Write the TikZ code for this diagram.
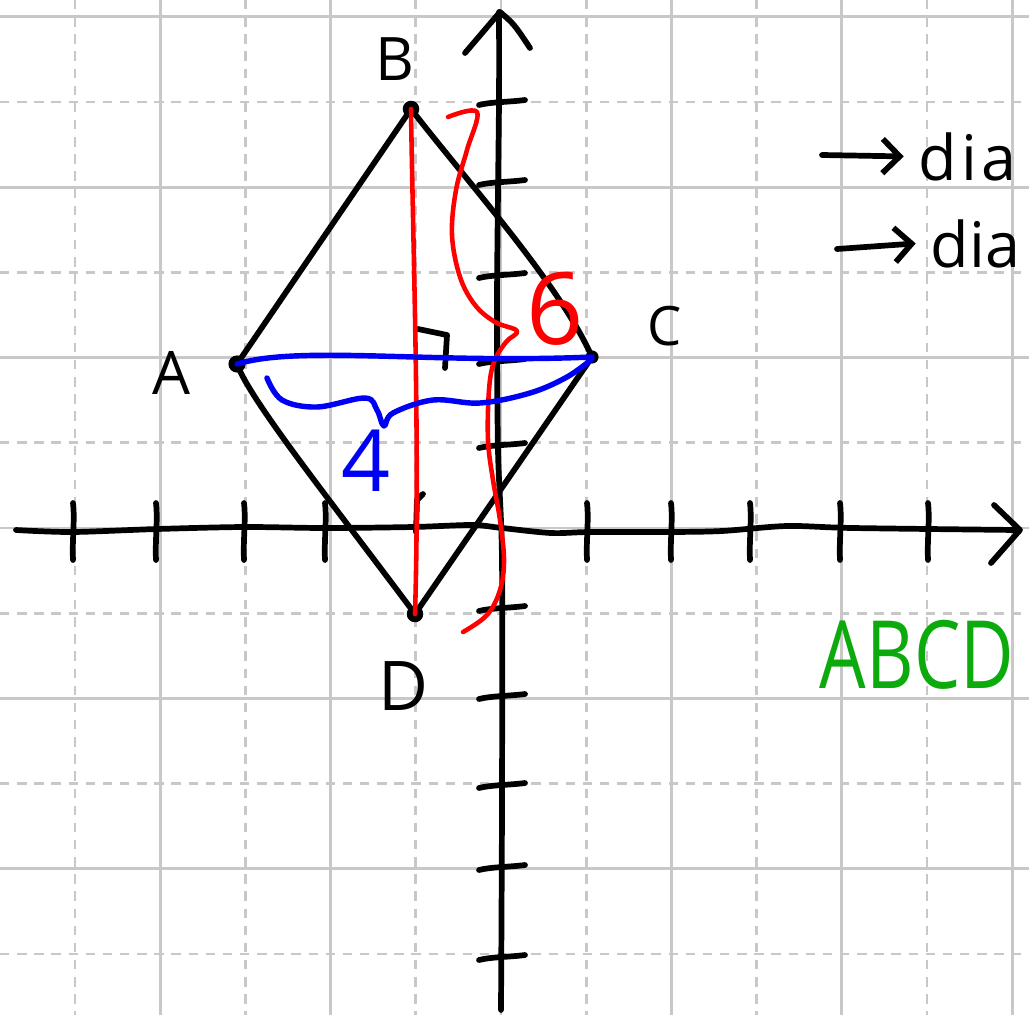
\documentclass[tikz,border=0pt]{standalone}
\usepackage{fontspec}
\setmainfont{Open Sans}
\usetikzlibrary{arrows.meta}
\definecolor{gridgray}{RGB}{200,200,200}
\definecolor{abcdgreen}{RGB}{12,170,12}
\definecolor{inkred}{RGB}{255,0,0}
\definecolor{inkblue}{RGB}{0,0,245}
\begin{document}
\begin{tikzpicture}[x=0.35pt,y=-0.35pt,
  gridsolid/.style={draw=gridgray, line width=1pt},
  griddash/.style={draw=gridgray, line width=1pt, dash pattern=on 3.3pt off 2.7pt},
  ink/.style={draw=black, line width=2pt, line cap=round, line join=round},
  redink/.style={draw=inkred, line width=1.6pt, line cap=round, line join=round},
  blueink/.style={draw=inkblue, line width=1.9pt, line cap=round, line join=round},
  lbl/.style={inner sep=0pt, font=\fontsize{21}{21}\selectfont},
  note/.style={anchor=base west, inner sep=0pt, font=\fontsize{22}{22}\selectfont},
  barb/.style={-{Straight Barb[length=6pt,width=12pt]}}
]
\useasboundingbox (0,0) rectangle (1029,1015);
\fill[white] (0,0) rectangle (1029,1015);
\clip (0,0) rectangle (1029,1015);

% grid
\foreach \k in {-5,...,6}{
  \ifodd\k \def\gs{griddash}\else\def\gs{gridsolid}\fi
  \draw[\gs] ({501+85.2*\k},0) -- ({501+85.2*\k},1015);
  \draw[\gs] (0,{528-85.2*\k}) -- (1029,{528-85.2*\k});
}

% axes
\draw[ink] plot[smooth] coordinates {(16,530) (72,532) (157,529) (244,527) (325,528) (413,527) (472,525) (502,528) (551,533) (590,532) (669,532) (722,531) (787,526) (853,528) (1017,530)};
\draw[ink] (994,505) -- (1020,530) -- (991,563);
\draw[ink] plot[smooth] coordinates {(499,12) (499,100) (497,300) (498,450) (502,560) (502,800) (501,1010)};
\draw[ink] (465,53) -- (500,12) .. controls (514,24) .. (530,48);
\foreach \tx in {73,156,244,325,587,671,750,840,928}
  \draw[ink] (\tx,503) .. controls ({\tx+2},520) and ({\tx-1},540) .. (\tx,560);
\draw[ink] (423,494) -- (417,500) -- (416,532);
\foreach \ty in {102,182,275,361,445,608,696,785,867,957}
  \draw[ink] (479,{\ty+3}) .. controls (490,\ty) and (510,\ty) .. (525,{\ty-2});

% vertices
\coordinate (A) at (237,364);
\coordinate (B) at (411,109);
\coordinate (C) at (592,357);
\coordinate (D) at (415,614);

% rhombus
\draw[ink] (A) -- (B);
\draw[ink] (B) .. controls (470,185) and (560,285) .. (C);
\draw[ink] (C) -- (D);
\draw[ink] (A) .. controls (250,400) and (330,500) .. (D);
\fill (A) circle[radius=3pt];
\fill (B) circle[radius=2.9pt];
\fill (C) circle[radius=2.3pt];
\fill (D) circle[radius=2.9pt];

% right angle mark
\draw[ink] (418,329) -- (447,335) -- (445,368);

% red diagonal BD and brace
\draw[redink] (B) .. controls (413,250) and (420,450) .. (D);
\draw[redink] plot[smooth, tension=0.6] coordinates {(448,117) (477,112) (467,150) (456,190) (452,235) (460,277) (475,305) (495,322) (517,331) (506,342) (494,362) (489,390) (488,440) (493,480) (500,520) (504,560) (500,590) (487,615) (463,632)};
\node[text=inkred, inner sep=0pt, font=\fontsize{35}{35}\selectfont] (six) at (555,309) {6};

% blue diagonal AC and brace
\draw[blueink] (A) .. controls (300,345) and (430,364) .. (C);
\draw[blueink] plot[smooth, tension=0.6] coordinates {(267,378) (282,400) (317,407) (365,398) (377,410) (384,426) (393,413) (433,400) (480,403) (530,393) (567,377) (592,359)};
\node[text=inkblue, inner sep=0pt, font=\fontsize{30}{30}\selectfont] (four) at (366,461) {4};

% vertex labels
\node[lbl] (labB) at (395,59) {B};
\node[lbl] (labA) at (171,373) {A};
\node[lbl, font=\fontsize{19}{19}\selectfont] (labC) at (665,326) {C};
\node[lbl, font=\fontsize{24}{24}\selectfont] (labD) at (403,686) {D};

% green name
\node[text=abcdgreen, inner sep=0pt, font=\fontsize{33}{33}\selectfont] (abcd) at (917,655) {\scalebox{0.78}[1]{ABCD}};

% notes top right
\node[note, font=\fontsize{22}{22}\selectfont\addfontfeature{LetterSpace=7}] (diaone) at (918,180) {dia};
\node[note] (diatwo) at (930,267) {dia};
\coordinate (arrA) at (822,155);
\coordinate (arrB) at (837,249);
\draw[ink, barb] (arrA) -- ([xshift=-5pt]diaone.west);
\draw[ink, barb] (arrB) -- ([xshift=-5pt]diatwo.west);
\end{tikzpicture}
\end{document}
